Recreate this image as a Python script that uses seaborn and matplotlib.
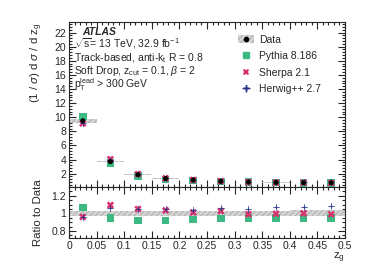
import matplotlib
matplotlib.use("Agg")
import matplotlib.pyplot as plt
import numpy as np
import pandas as pd
import seaborn as sns
from matplotlib.ticker import MultipleLocator, FuncFormatter
from matplotlib.lines import Line2D
from matplotlib.patches import Patch

# bin centres of z_g (width 0.05)
zg = [0.025, 0.075, 0.125, 0.175, 0.225, 0.275, 0.325, 0.375, 0.425, 0.475]
bin_width = 0.05

# unfolded data (1/sigma dsigma/dz_g) and relative uncertainty
data = [9.5, 3.7, 1.85, 1.3, 1.1, 0.92, 0.82, 0.76, 0.72, 0.70]
data_unc = [0.03, 0.03, 0.03, 0.03, 0.032, 0.032, 0.033, 0.033, 0.034, 0.035]

# MC / data ratios
ratio_pythia = [1.065, 0.95, 0.92, 0.92, 0.93, 0.94, 0.95, 0.95, 0.95, 0.95]
ratio_sherpa = [0.96, 1.095, 1.05, 1.035, 1.01, 1.026, 0.99, 0.996, 1.0, 0.99]
ratio_herwig = [0.96, 1.06, 1.05, 1.045, 1.04, 1.056, 1.05, 1.07, 1.07, 1.09]

c_pythia = "#3dba82"
c_sherpa = "#d8336d"
c_herwig = "#2e3a8e"

sns.set_theme(style="ticks")
plt.rcParams["font.family"] = ["Liberation Sans", "DejaVu Sans"]
plt.rcParams["mathtext.fontset"] = "custom"
plt.rcParams["mathtext.rm"] = "Liberation Sans"
plt.rcParams["mathtext.it"] = "Liberation Sans:italic"
plt.rcParams["hatch.linewidth"] = 0.6

df = pd.DataFrame({"zg": zg, "data": data, "unc": data_unc,
                   "r_pythia": ratio_pythia, "r_sherpa": ratio_sherpa,
                   "r_herwig": ratio_herwig})
df["pythia"] = df["data"] * df["r_pythia"]
df["sherpa"] = df["data"] * df["r_sherpa"]
df["herwig"] = df["data"] * df["r_herwig"]

fig = plt.figure(figsize=(3.74, 2.68), dpi=100)
ax = fig.add_axes([0.1845, 0.302, 0.738, 0.616])
rax = fig.add_axes([0.1845, 0.112, 0.738, 0.190], sharex=ax)

fs = 7.5

# data uncertainty boxes
ax.bar(df["zg"], 2 * df["data"] * df["unc"], bottom=df["data"] * (1 - df["unc"]),
       width=bin_width, color="#d4d4d4", edgecolor="#a8a8a8", hatch="//////",
       linewidth=0, zorder=1)
rax.bar(df["zg"], 2 * df["unc"], bottom=1 - df["unc"], width=bin_width,
        color="#d4d4d4", edgecolor="#a8a8a8", hatch="//////", linewidth=0, zorder=1)

star4 = [(0, 1), (0.14, 0.14), (1, 0), (0.14, -0.14), (0, -1), (-0.14, -0.14),
         (-1, 0), (-0.14, 0.14), (0, 1)]

for a, cols in ((ax, ("pythia", "sherpa", "herwig")),
                (rax, ("r_pythia", "r_sherpa", "r_herwig"))):
    sns.scatterplot(data=df, x="zg", y=cols[0], marker="s", s=30, color=c_pythia,
                    edgecolor="none", ax=a, zorder=3)
    sns.scatterplot(data=df, x="zg", y=cols[1], marker="X", s=28, color=c_sherpa,
                    edgecolor="none", ax=a, zorder=4)
    sns.scatterplot(data=df, x="zg", y=cols[2], marker=star4, s=26, color=c_herwig,
                    edgecolor=c_herwig, linewidth=0.2, ax=a, zorder=5)

sns.scatterplot(data=df, x="zg", y="data", marker="o", s=13, color="black",
                edgecolor="none", ax=ax, zorder=6)

ax.set_xlim(0, 0.5)
ax.set_ylim(0.1, 23.5)
rax.set_ylim(0.72, 1.3)

for a in (ax, rax):
    a.tick_params(which="both", direction="in", top=True, right=True,
                  labelsize=fs, pad=2, width=0.8)
    a.tick_params(which="major", length=5)
    a.tick_params(which="minor", length=2.5)
    for sp in a.spines.values():
        sp.set_linewidth(0.8)
    a.set_xlabel("")
    a.set_ylabel("")
    a.xaxis.set_major_locator(MultipleLocator(0.05))
    a.xaxis.set_minor_locator(MultipleLocator(0.01))

ax.yaxis.set_major_locator(MultipleLocator(2))
ax.yaxis.set_minor_locator(MultipleLocator(0.4))
ax.tick_params(axis="x", labelbottom=False)
rax.yaxis.set_major_locator(MultipleLocator(0.2))
rax.yaxis.set_minor_locator(MultipleLocator(0.05))
fmt = FuncFormatter(lambda v, p: ("%g" % round(v, 3)))
rax.xaxis.set_major_formatter(fmt)
rax.yaxis.set_major_formatter(fmt)
ax.yaxis.set_major_formatter(fmt)

ax.set_ylabel(r"(1 / $\sigma$) d $\sigma$ / d z$_{\rm g}$", fontsize=8.2,
              loc="top", labelpad=7)
rax.set_ylabel("Ratio to Data", fontsize=8.2, labelpad=6)
rax.set_xlabel(r"z$_{\rm g}$", fontsize=8.2, loc="right", labelpad=0)
fig.align_ylabels([ax, rax])

# ATLAS labels
ax.text(0.047, 0.94, "ATLAS", transform=ax.transAxes, fontsize=fs,
        fontweight="bold", fontstyle="italic", va="center")
lines = [r"$\sqrt{\rm s}$= 13 TeV, 32.9 fb$^{-1}$",
         r"Track-based, anti-k$_{\rm t}$ R = 0.8",
         r"Soft Drop, z$_{\rm cut}$ = 0.1, $\beta$ = 2",
         r"p$_{\rm T}^{\rm lead}$ > 300 GeV"]
ypos = [0.868, 0.782, 0.703, 0.618]
for t, yy in zip(lines, ypos):
    ax.text(0.018, yy, t, transform=ax.transAxes, fontsize=fs, va="center")

handles = [
    (Patch(facecolor="#d4d4d4", edgecolor="#a8a8a8", hatch="//////", linewidth=0),
     Line2D([], [], marker="o", color="black", ls="none", markersize=3)),
    Line2D([], [], marker="s", color=c_pythia, ls="none", markersize=4.5),
    Line2D([], [], marker="X", color=c_sherpa, ls="none", markersize=5,
           markeredgewidth=0),
    Line2D([], [], marker=star4, color=c_herwig, ls="none", markersize=5),
]
labels = ["Data", "Pythia 8.186", "Sherpa 2.1", "Herwig++ 2.7"]
ax.legend(handles, labels, loc="upper left", bbox_to_anchor=(0.595, 0.955),
          frameon=False, fontsize=fs, handlelength=1.5, handletextpad=0.5,
          labelspacing=0.62, borderpad=0)

fig.savefig("out.png", dpi=100)
